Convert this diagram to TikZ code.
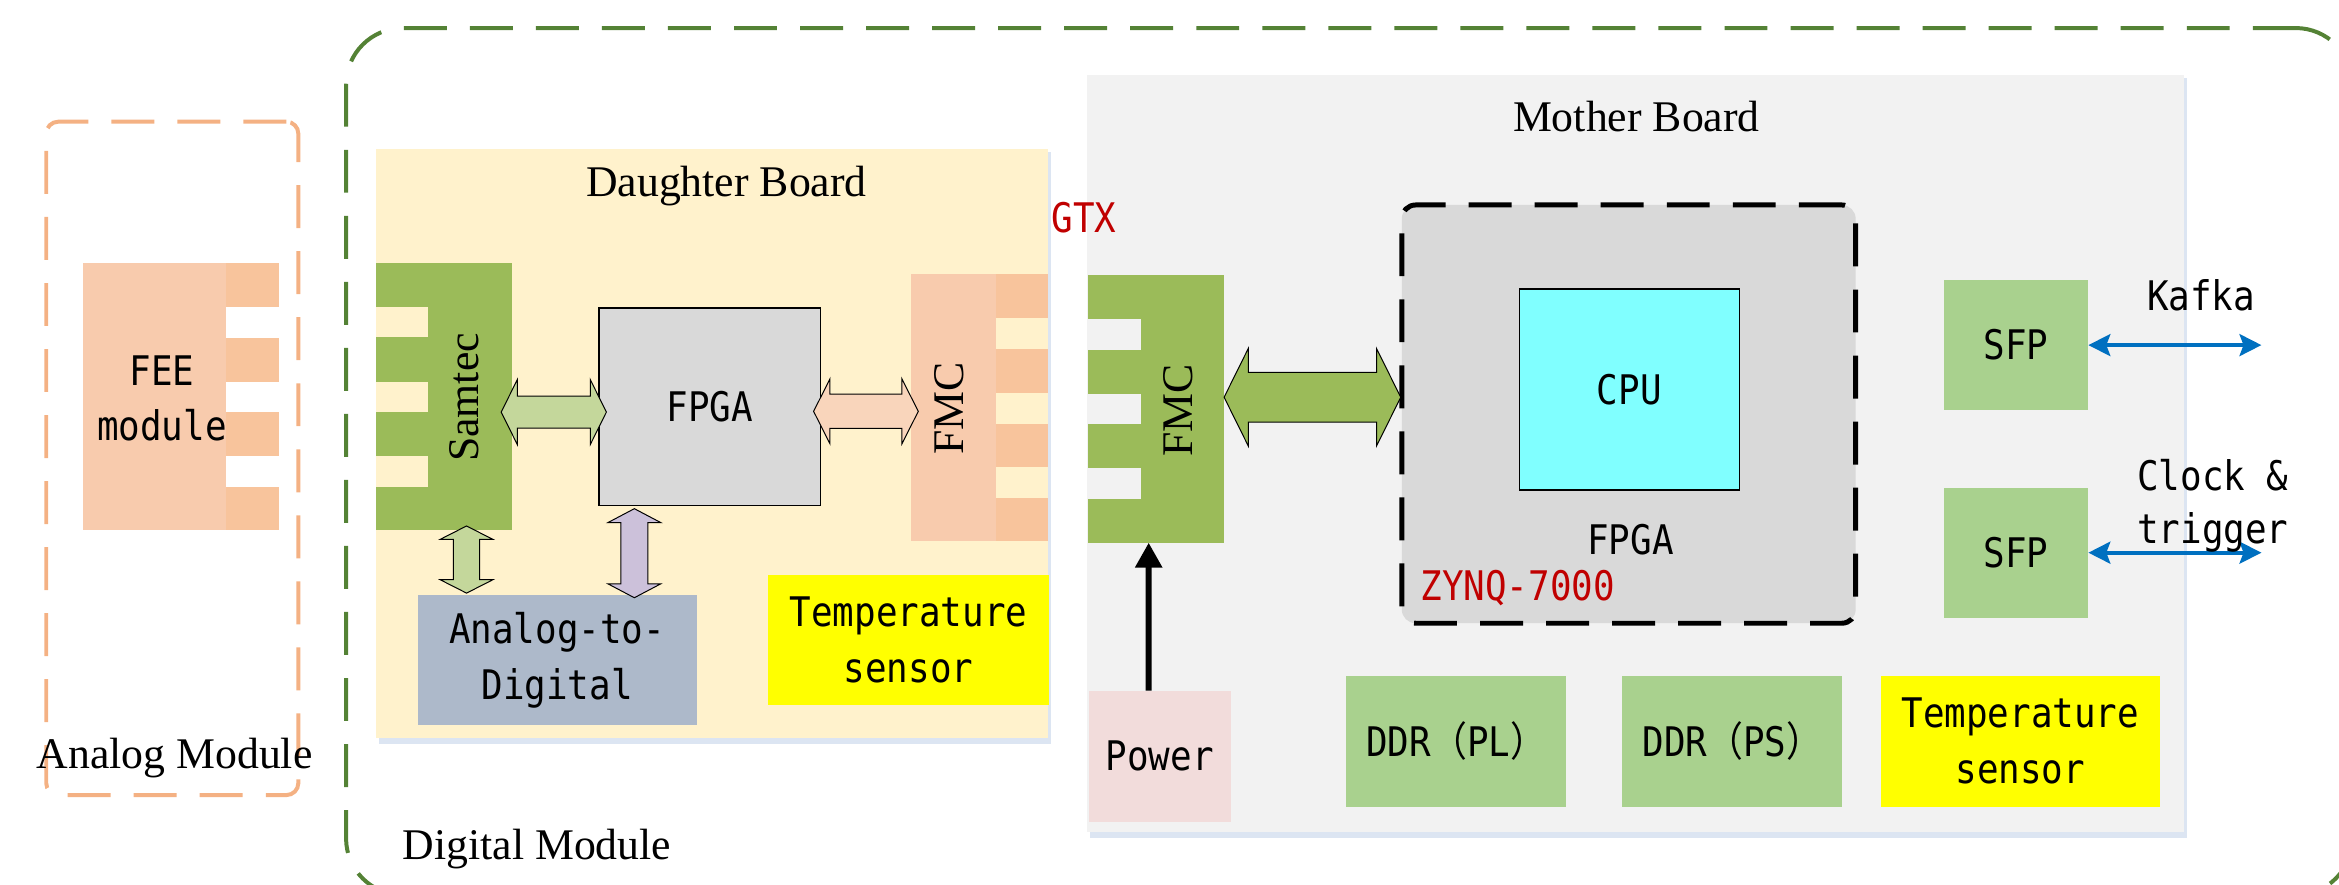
\documentclass[tikz,border=0pt]{standalone}
\usepackage{fontspec}
\setmainfont{Liberation Serif}
\newfontfamily\monof[FakeStretch=0.88]{DejaVu Sans Mono}
\newfontfamily\cjkf[FakeStretch=0.88]{Noto Sans CJK SC}
\usetikzlibrary{calc,fit,arrows.meta}

\definecolor{greendash}{HTML}{548235}
\definecolor{orangedash}{HTML}{F4B183}
\definecolor{dbbg}{HTML}{FFF2CC}
\definecolor{mbbg}{HTML}{F2F2F2}
\definecolor{conngreen}{HTML}{9BBB59}
\definecolor{lightgreen}{HTML}{C4D79B}
\definecolor{lavender}{HTML}{CCC1DA}
\definecolor{peach}{HTML}{F9D5BB}
\definecolor{salmon}{HTML}{F8CBAD}
\definecolor{salmontab}{HTML}{F8C49C}
\definecolor{adcblue}{HTML}{ADB9CA}
\definecolor{chipgray}{HTML}{D9D9D9}
\definecolor{cpucyan}{HTML}{80FFFF}
\definecolor{sfpgreen}{HTML}{A9D18E}
\definecolor{powerpink}{HTML}{F2DCDB}
\definecolor{redlabel}{HTML}{C00000}
\definecolor{bluelink}{HTML}{0070C0}
\definecolor{yellowbox}{HTML}{FFFF00}
\definecolor{shadowc}{HTML}{DCE5F2}

% #1 style, #2 start, #3 end, #4 shaft half width, #5 head half width, #6 head length
\newcommand\blockarrow[6]{%
  \draw[#1] (#2)
   -- ($(#2)!#6!(#3)!#5!90:(#3)$)
   -- ($(#2)!#6!(#3)!#4!90:(#3)$)
   -- ($(#3)!#6!(#2)!#4!-90:(#2)$)
   -- ($(#3)!#6!(#2)!#5!-90:(#2)$)
   -- (#3)
   -- ($(#3)!#6!(#2)!#5!90:(#2)$)
   -- ($(#3)!#6!(#2)!#4!90:(#2)$)
   -- ($(#2)!#6!(#3)!#4!-90:(#3)$)
   -- ($(#2)!#6!(#3)!#5!-90:(#3)$)
   -- cycle;}

\begin{document}
\begin{tikzpicture}[x=0.75pt,y=-0.75pt,
  area/.style={inner sep=0pt, outer sep=0pt, draw=none},
  mono/.style={font=\monof\fontsize{20.5}{28}\selectfont, align=center, inner sep=0pt},
  serif/.style={font=\fontsize{22}{26}\selectfont, inner sep=0pt},
  moddash/.style={line width=2pt, dash pattern=on 21.6pt off 11.6pt},
  chipline/.style={draw=black, line width=0.6pt},
  blkarrow/.style={draw=black, line width=0.5pt, line join=miter},
  linkarrow/.style={draw=bluelink, line width=2pt, arrows={Stealth[length=11pt,width=11pt,inset=2pt]-Stealth[length=11pt,width=11pt,inset=2pt]}},
  powerarrow/.style={draw=black, line width=3pt, arrows={-Triangle[length=12.5pt,width=13pt]}},
]
\useasboundingbox (0,0) rectangle (1568,593);
\clip (0,0) rectangle (1568,593);

% module frames
\node[area, draw=greendash, moddash, rounded corners=28.5pt, fit={(232,18.8) (1577,600)}] (digital) {};
\node[area, draw=orangedash, moddash, rounded corners=6pt, fit={(31,81.6) (200,533)}] (analog) {};

% boards
\fill[shadowc] (254,494.5) rectangle (704.5,498.5);
\fill[shadowc] (702.5,102) rectangle (704.5,498.5);
\node[area, fill=dbbg, fit={(252,100) (702.5,494.5)}] (daughter) {};
\fill[shadowc] (730.5,557.7) rectangle (1466,561.5);
\fill[shadowc] (1464,52) rectangle (1466,561.5);
\node[area, fill=mbbg, fit={(728.5,50) (1464,557.7)}] (mother) {};

\node[serif] (daughterlabel) at (487,125) {Daughter Board};
\node[serif] (motherlabel) at (1097,78) {Mother Board};
\node[serif] (analoglabel) at (117,508) {Analog Module};
\node[serif] (digitallabel) at (360,569) {Digital Module};

% FEE module
\node[area, fill=salmon, fit={(55.6,176) (151.5,355.5)}] (fee) {};
\foreach \ya/\yb in {176/206, 226.5/256, 276/305.5, 326.5/355.5}
  \fill[salmontab] (151.5,\ya) rectangle (187,\yb);
\node[mono] (feelabel) at (108.5,267) {FEE\\module};

% Samtec
\node[area, fill=conngreen, fit={(252,176) (343,355.5)}] (samtec) {};
\foreach \ya/\yb in {205.6/226, 256/276, 305.7/326.3}
  \fill[dbbg] (252,\ya) rectangle (287,\yb);
\node[serif, rotate=90] (samteclabel) at (311,266.5) {Samtec};

% daughter FPGA
\node[area, chipline, fill=chipgray, fit={(401.5,206.5) (550,339)}] (fpgaD) {};
\node[mono] (fpgaDlabel) at (fpgaD.center) {FPGA};

% daughter FMC
\node[area, fill=salmon, fit={(611,184) (668,363)}] (fmcD) {};
\foreach \ya/\yb in {184/213, 234/263.5, 284/313, 334/363}
  \fill[salmontab] (668,\ya) rectangle (702.5,\yb);
\node[serif, rotate=90] (fmcDlabel) at (636.5,274) {FMC};

% ADC and temperature
\node[area, fill=adcblue, fit={(280,399) (467,486)}] (adc) {};
\node[mono] (adclabel) at (adc.center) {Analog-to-\\Digital};
\node[area, fill=yellowbox, fit={(515,385.5) (703,472.6)}] (tempD) {};
\node[mono] (tempDlabel) at (tempD.center) {Temperature\\sensor};

\node[mono, text=redlabel, anchor=west] (gtx) at (704.6,146) {GTX};

% mother FMC
\node[area, fill=conngreen, fit={(729.5,184.4) (820.6,363.8)}] (fmcM) {};
\foreach \ya/\yb in {214/234.6, 264/284, 314/334.6}
  \fill[mbbg] (729.5,\ya) rectangle (764.7,\yb);
\node[serif, rotate=90] (fmcMlabel) at (790,275) {FMC};

% ZYNQ
\node[area, fill=chipgray, draw=black, line width=2.5pt, dash pattern=on 21.6pt off 11.6pt, rounded corners=7pt, fit={(939.7,137.4) (1244,417.8)}] (zynq) {};
\node[area, chipline, fill=cpucyan, fit={(1018.5,193.7) (1166,328.5)}] (cpu) {};
\node[mono] (cpulabel) at (cpu.center) {CPU};
\node[mono] (zynqfpga) at (1093,362) {FPGA};
\node[mono, text=redlabel, anchor=west] (zynqname) at (952,394) {ZYNQ-7000};

% SFP
\node[area, fill=sfpgreen, fit={(1303,187.7) (1400,275)}] (sfp1) {};
\node[mono] (sfp1label) at (sfp1.center) {SFP};
\node[area, fill=sfpgreen, fit={(1303,327) (1400,414)}] (sfp2) {};
\node[mono] (sfp2label) at (sfp2.center) {SFP};
\coordinate (kafkaEnd) at (1516,232);
\coordinate (clockEnd) at (1516,372);
\draw[linkarrow] (sfp1.east) -- (sfp1.east -| kafkaEnd);
\draw[linkarrow] (sfp2.east) -- (sfp2.east -| clockEnd);
\node[mono] (kafka) at (1475.5,198) {Kafka};
\node[mono, font=\monof\fontsize{20.5}{26.5}\selectfont] (clock) at (1483.5,339) {Clock \&\\trigger};

% bottom row
\node[area, fill=powerpink, fit={(729.8,463) (825,551)}] (power) {};
\node[mono] (powerlabel) at (power.center) {Power};
\node[area, fill=sfpgreen, fit={(902.4,453) (1050,540.8)}] (ddrpl) {};
\node[mono] (ddrpllabel) at (ddrpl.center) {DDR{\cjkf （}PL{\cjkf ）}};
\node[area, fill=sfpgreen, fit={(1087.6,453) (1235,540.8)}] (ddrps) {};
\node[mono] (ddrpslabel) at (ddrps.center) {DDR{\cjkf （}PS{\cjkf ）}};
\node[area, fill=yellowbox, fit={(1260.7,453) (1448,540.8)}] (tempM) {};
\node[mono] (tempMlabel) at (tempM.center) {Temperature\\sensor};

\draw[powerarrow] ($(power.north)+(-7.4,0)$) -- ($(fmcM.south)+(-5,0)$);

% block arrows
\coordinate (sa1) at ($(samtec.east)+(-7,10.5)$);
\coordinate (sa2) at ($(fpgaD.west)+(5,3.5)$);
\blockarrow{blkarrow, fill=lightgreen}{sa1}{sa2}{8.06pt}{16.35pt}{8.1pt}

\coordinate (fa1) at ($(fpgaD.east)+(-4.6,3)$);
\coordinate (fa2) at ($(fmcD.west)+(4.6,2.25)$);
\blockarrow{blkarrow, fill=peach}{fa1}{fa2}{8.6pt}{16.35pt}{8.25pt}

\coordinate (va1) at ($(samtec.south)+(15.25,-2.9)$);
\coordinate (va2) at ($(adc.north)+(-60.75,-1.4)$);
\blockarrow{blkarrow, fill=lightgreen}{va1}{va2}{6.56pt}{13.3pt}{6.75pt}

\coordinate (la1) at ($(fpgaD.south)+(-50.5,2)$);
\coordinate (la2) at ($(adc.north)+(51.75,1.7)$);
\blockarrow{blkarrow, fill=lavender}{la1}{la2}{6.75pt}{13.3pt}{7pt}

\coordinate (ma1) at ($(fmcM.east)+(0,-7.8)$);
\coordinate (ma2) at ($(zynq.west)+(-0.7,-11.3)$);
\blockarrow{blkarrow, fill=conngreen}{ma1}{ma2}{12.45pt}{24.5pt}{12.15pt}

\end{tikzpicture}
\end{document}
